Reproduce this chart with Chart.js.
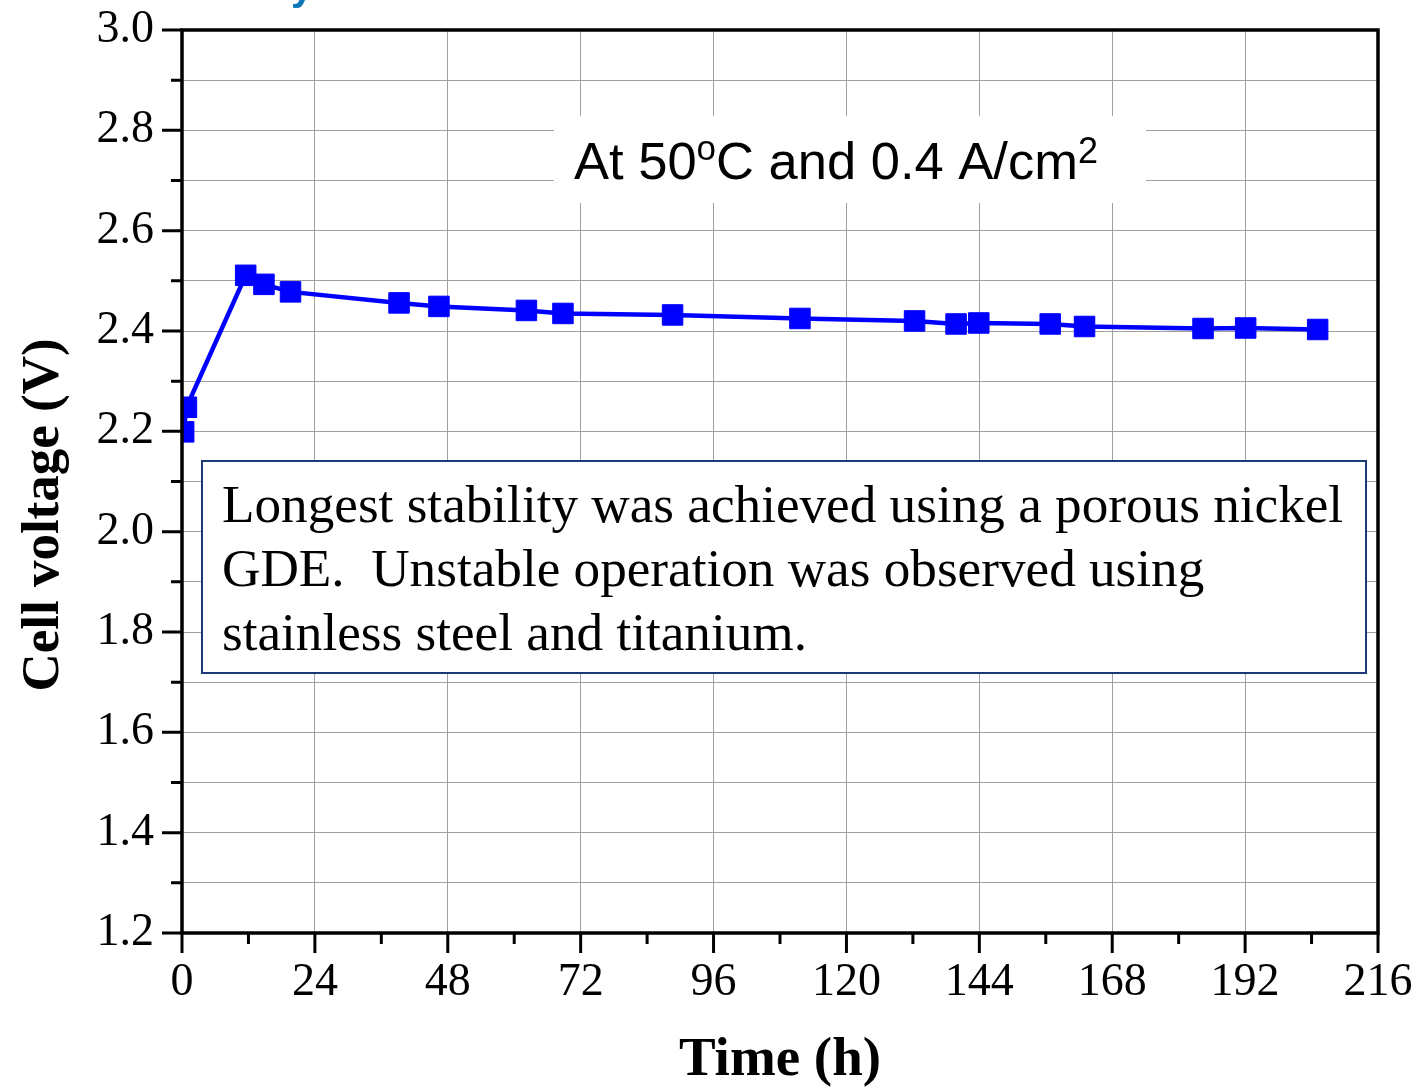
<!DOCTYPE html>
<html>
<head>
<meta charset="utf-8">
<script src="https://cdn.jsdelivr.net/npm/chart.js@4.4.1/dist/chart.umd.min.js"></script>
<style>
  html, body { margin: 0; padding: 0; background: #ffffff; }
  #wrap { width: 1418px; height: 1088px; position: relative; }
</style>
</head>
<body>
<div id="wrap"><canvas id="c" width="1418" height="1088"></canvas></div>
<script>
// ---- Data ----
const timeHours = [0.3, 0.8, 11.5, 14.8, 19.6, 39.2, 46.4, 62.2, 68.8, 88.6, 111.6, 132.3, 139.8, 143.9, 156.8, 163.0, 184.4, 192.1, 205.1];
const cellVoltage = [2.199, 2.248, 2.511, 2.493, 2.478, 2.456, 2.449, 2.441, 2.435, 2.432, 2.425, 2.420, 2.414, 2.416, 2.414, 2.409, 2.405, 2.406, 2.403];
const xTickLabels = [0, 24, 48, 72, 96, 120, 144, 168, 192, 216];
const yTickLabels = ['1.2', '1.4', '1.6', '1.8', '2.0', '2.2', '2.4', '2.6', '2.8', '3.0'];
const xTitle = 'Time (h)';
const yTitle = 'Cell voltage (V)';
const conditionText = ['At 50', 'o', 'C and 0.4 A/cm', '2'];
const noteLines = [
  'Longest stability was achieved using a porous nickel',
  'GDE.  Unstable operation was observed using',
  'stainless steel and titanium.'
];

const SERIF = '"Liberation Serif", "Times New Roman", Times, serif';
const SANS = '"Liberation Sans", Arial, Helvetica, sans-serif';

const points = timeHours.map((t, i) => ({ x: t, y: cellVoltage[i] }));

function zeroPad(s) { s.paddingLeft = 0; s.paddingRight = 0; s.paddingTop = 0; s.paddingBottom = 0; }

const decorPlugin = {
  id: 'decor',
  afterDatasetsDraw(chart) {
    const ctx = chart.ctx;
    const xs = chart.scales.x, ys = chart.scales.y;
    const ca = chart.chartArea;
    ctx.save();

    // Condition label with white background
    ctx.fillStyle = '#ffffff';
    ctx.fillRect(554, 116, 592, 87);
    let x = 574, base = 179;
    ctx.fillStyle = '#000000';
    ctx.textBaseline = 'alphabetic';
    ctx.textAlign = 'left';
    const parts = [
      { t: conditionText[0], f: '52.5px ' + SANS, dy: 0 },
      { t: conditionText[1], f: '35px ' + SANS, dy: -19 },
      { t: conditionText[2], f: '52.5px ' + SANS, dy: 0 },
      { t: conditionText[3], f: '36px ' + SANS, dy: -16 }
    ];
    parts.forEach(p => {
      ctx.font = p.f;
      ctx.fillText(p.t, x, base + p.dy);
      x += ctx.measureText(p.t).width;
    });

    // Note box
    ctx.fillStyle = '#ffffff';
    ctx.fillRect(202, 461, 1164, 212);
    ctx.strokeStyle = '#1c3a78';
    ctx.lineWidth = 2;
    ctx.strokeRect(202, 461, 1164, 212);
    ctx.fillStyle = '#000000';
    ctx.font = '53.2px ' + SERIF;
    noteLines.forEach((l, i) => ctx.fillText(l, 222, 522 + i * 64));

    // Frame
    ctx.strokeStyle = '#000000';
    ctx.lineWidth = 3.5;
    ctx.strokeRect(ca.left, ca.top, ca.right - ca.left, ca.bottom - ca.top);

    // Ticks (major + minor) on left and bottom axes
    ctx.lineWidth = 3;
    ctx.beginPath();
    for (let v = 12; v <= 30; v++) {
      const py = ys.getPixelForValue(v / 10);
      const len = (v % 2 === 0) ? 20 : 11;
      ctx.moveTo(ca.left, py);
      ctx.lineTo(ca.left - len, py);
    }
    for (let h = 0; h <= 216; h += 12) {
      const px = xs.getPixelForValue(h);
      const len = (h % 24 === 0) ? 20 : 11;
      ctx.moveTo(px, ca.bottom);
      ctx.lineTo(px, ca.bottom + len);
    }
    ctx.stroke();

    // Y axis title (rotated)
    ctx.save();
    ctx.translate(44, 515);
    ctx.rotate(-Math.PI / 2);
    ctx.fillStyle = '#000000';
    ctx.font = 'bold 53px ' + SERIF;
    ctx.textAlign = 'center';
    ctx.textBaseline = 'middle';
    ctx.fillText(yTitle, 0, 0);
    ctx.restore();

    // Cut-off fragment of a heading at the very top
    ctx.fillStyle = '#0b78b9';
    ctx.font = 'bold 40px ' + SANS;
    ctx.fillText('y', 291, 0);

    ctx.restore();
  }
};

new Chart(document.getElementById('c'), {
  type: 'line',
  data: {
    datasets: [{
      label: yTitle,
      data: points,
      borderColor: '#0000ff',
      backgroundColor: '#0000ff',
      borderWidth: 4.5,
      pointStyle: 'rect',
      pointRadius: 14.5,
      pointBorderWidth: 1,
      pointBorderColor: '#0000ff',
      pointBackgroundColor: '#0000ff',
      tension: 0,
      clip: 0
    }]
  },
  options: {
    responsive: false,
    animation: false,
    events: [],
    layout: { padding: { top: 30, right: 40, left: 0, bottom: 0 } },
    plugins: { legend: { display: false }, tooltip: { enabled: false } },
    scales: {
      x: {
        type: 'linear',
        min: 0, max: 216,
        afterFit(s) { s.height = 155; zeroPad(s); },
        ticks: {
          stepSize: 24, autoSkip: false, maxRotation: 0, padding: 22,
          color: '#000', font: { family: SERIF, size: 46 },
          callback: (v) => xTickLabels.includes(v) ? String(v) : ''
        },
        grid: { color: '#a0a0a0', lineWidth: 1, drawTicks: false },
        border: { display: false },
        title: {
          display: true, text: xTitle, color: '#000',
          font: { family: SERIF, size: 55, weight: 'bold', lineHeight: 1.0 },
          padding: { top: 0, bottom: 0 }
        }
      },
      y: {
        type: 'linear',
        min: 1.2, max: 3.0,
        afterFit(s) { s.width = 182; zeroPad(s); },
        ticks: {
          stepSize: 0.1, autoSkip: false, padding: 28,
          color: '#000', font: { family: SERIF, size: 46 },
          callback: (v) => {
            const s = (Math.round(v * 10) / 10).toFixed(1);
            return yTickLabels.includes(s) ? s : '';
          }
        },
        grid: { color: '#a0a0a0', lineWidth: 1, drawTicks: false },
        border: { display: false },
        title: { display: false, text: yTitle }
      }
    }
  },
  plugins: [decorPlugin]
});
</script>
</body>
</html>
